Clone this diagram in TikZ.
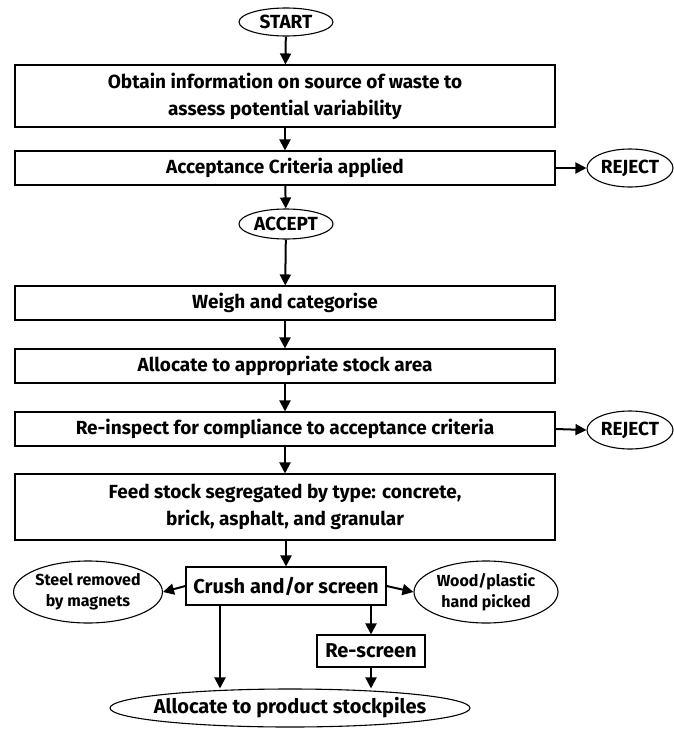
\documentclass[tikz,border=0pt]{standalone}
\usepackage{fontspec}
\setmainfont{Fira Sans}
\usetikzlibrary{shapes.geometric,arrows.meta}
\begin{document}
\begin{tikzpicture}[x=1pt,y=-1pt,
  box/.style={draw, line width=1.1pt, minimum width=540pt, minimum height=34pt, inner sep=0pt,
    align=center, font=\fontsize{19}{27}\selectfont\bfseries},
  smallbox/.style={draw, line width=1.1pt, inner sep=0pt, align=center, font=\fontsize{20}{27}\selectfont\bfseries},
  oval/.style={draw, ellipse, line width=1.1pt, inner sep=0pt, align=center, font=\fontsize{19}{26}\selectfont\bfseries},
  bigoval/.style={oval, font=\fontsize{20}{26}\selectfont\bfseries, inner xsep=-24pt, inner ysep=-4pt},
  smalloval/.style={draw, ellipse, line width=1.1pt, inner sep=0pt, align=center, font=\fontsize{16}{21}\selectfont\bfseries},
  arr/.style={-{Triangle[length=11pt,width=11pt]}, line width=2pt}]
\useasboundingbox (0,0) rectangle (674,731);
\node[oval, minimum width=94pt, minimum height=28pt] (start) at (286,22) {START};
\node[box, minimum height=62pt] (b1) at (285,96) {Obtain information on source of waste to\\assess potential variability};
\node[box] (b2) at (285,168) {Acceptance Criteria applied};
\node[oval, minimum width=86pt, minimum height=38pt] (rej1) at (630,168) {REJECT};
\node[oval, minimum width=94pt, minimum height=30pt] (acc) at (286,224) {ACCEPT};
\node[box] (b3) at (285,303) {Weigh and categorise};
\node[box] (b4) at (285,366) {Allocate to appropriate stock area};
\node[box] (b5) at (285,429) {Re-inspect for compliance to acceptance criteria};
\node[oval, minimum width=86pt, minimum height=38pt] (rej2) at (630,430) {REJECT};
\node[box, minimum height=66pt] (b6) at (285,507) {Feed stock segregated by type: concrete,\\brick, asphalt, and granular};
\node[smallbox, minimum width=200pt, minimum height=38pt] (crush) at (286,586) {Crush and/or screen};
\node[smalloval, minimum width=144pt, minimum height=62pt] (steel) at (88,592) {Steel removed\\by magnets};
\node[smalloval, minimum width=144pt, minimum height=62pt] (wood) at (486,592) {Wood/plastic\\hand picked};
\node[smallbox, minimum width=108pt, minimum height=32pt] (rescr) at (371,651) {Re-screen};
\node[bigoval, minimum width=360pt, minimum height=38pt] (final) at (290,708) {Allocate to product stockpiles};
\draw[arr] (start) -- (b1);
\draw[arr] (b1) -- (b2);
\draw[arr] (b2.east) -- (rej1.west);
\draw[arr] (b2) -- (acc);
\draw[arr] (acc) -- (b3);
\draw[arr] (b3) -- (b4);
\draw[arr] (b4) -- (b5);
\draw[arr] (b5.east) -- (rej2.west);
\draw[arr] (b5) -- (b6);
\draw[arr] (b6.south -| crush.north) -- (crush.north);
\draw[arr] (crush.west) -- (steel.east);
\draw[arr] (crush.east) -- (wood.west);
\draw[arr] (crush.south -| 220,0) -- (220,0 |- final.north);
\draw[arr] (crush.south -| rescr.north) -- (rescr.north);
\draw[arr] (rescr.south) -- (rescr.south |- final.north);
\end{tikzpicture}
\end{document}
